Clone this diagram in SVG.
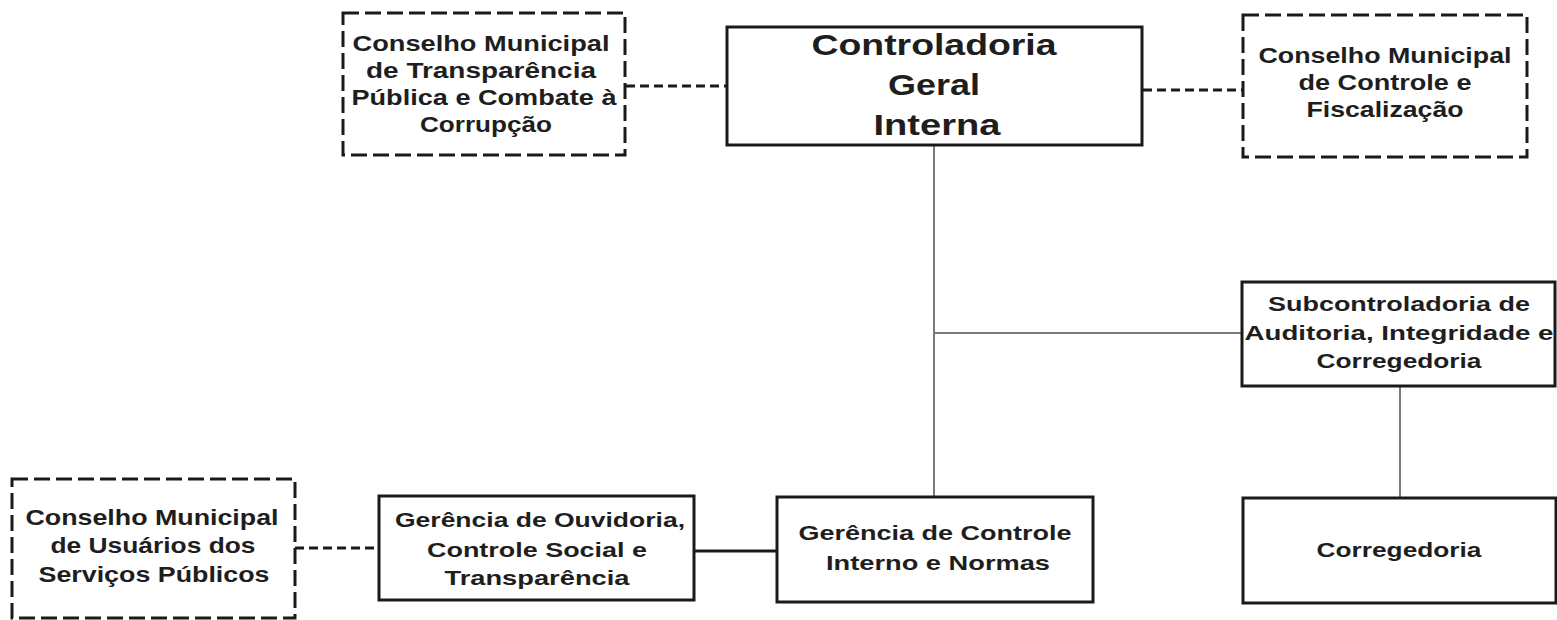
<svg xmlns="http://www.w3.org/2000/svg" width="1557" height="620" viewBox="0 0 1557 620">
<style>
  .box{fill:#fff;stroke:#1a1a1a;stroke-width:3}
  .dbox{fill:#fff;stroke:#1a1a1a;stroke-width:3;stroke-dasharray:16 6}
  .t{font-family:"Liberation Sans",Arial,sans-serif;font-weight:bold;fill:#1e1e1e;text-anchor:middle}
  .s22{font-size:22px}
  .s21{font-size:21px}
  .s30{font-size:30px}
  .solid{stroke:#1a1a1a;stroke-width:3;fill:none}
  .gray{stroke:#7a7a7a;stroke-width:2;fill:none}
  .dash{stroke:#1a1a1a;stroke-width:3;fill:none;stroke-dasharray:9 5}
</style>
<rect width="1557" height="620" fill="#fff"/>
<g id="connectors">
  <line class="dash" x1="626" y1="86" x2="727" y2="86"/>
  <line class="dash" x1="1143" y1="90" x2="1243" y2="90"/>
  <line class="gray" x1="934" y1="145" x2="934" y2="496"/>
  <line class="gray" x1="934" y1="333" x2="1242" y2="333"/>
  <line class="gray" x1="1400" y1="386" x2="1400" y2="498"/>
  <line class="solid" x1="694" y1="551" x2="777" y2="551"/>
  <line class="dash" x1="295" y1="548" x2="378" y2="548"/>
</g>
<g id="conselho-transparencia">
  <rect class="dbox" x="343" y="13" width="282" height="142"/>
  <text class="t s22" x="481" y="51" textLength="257" lengthAdjust="spacingAndGlyphs">Conselho Municipal</text>
  <text class="t s22" x="481" y="78" textLength="230" lengthAdjust="spacingAndGlyphs">de Transparência</text>
  <text class="t s22" x="484" y="105" textLength="265" lengthAdjust="spacingAndGlyphs">Pública e Combate à</text>
  <text class="t s22" x="486" y="132" textLength="132" lengthAdjust="spacingAndGlyphs">Corrupção</text>
</g>
<g id="controladoria">
  <rect class="box" x="727" y="27" width="415" height="118"/>
  <text class="t s30" x="934" y="55" textLength="245" lengthAdjust="spacingAndGlyphs">Controladoria</text>
  <text class="t s30" x="934" y="95" textLength="92" lengthAdjust="spacingAndGlyphs">Geral</text>
  <text class="t s30" x="937" y="135" textLength="127" lengthAdjust="spacingAndGlyphs">Interna</text>
</g>
<g id="conselho-controle">
  <rect class="dbox" x="1243" y="15" width="284" height="142"/>
  <text class="t s22" x="1385" y="63" textLength="253" lengthAdjust="spacingAndGlyphs">Conselho Municipal</text>
  <text class="t s22" x="1385" y="90" textLength="173" lengthAdjust="spacingAndGlyphs">de Controle e</text>
  <text class="t s22" x="1385" y="117" textLength="157" lengthAdjust="spacingAndGlyphs">Fiscalização</text>
</g>
<g id="subcontroladoria">
  <rect class="box" x="1242" y="282" width="313" height="104"/>
  <text class="t s21" x="1399" y="311" textLength="262" lengthAdjust="spacingAndGlyphs">Subcontroladoria de</text>
  <text class="t s21" x="1399" y="340" textLength="309" lengthAdjust="spacingAndGlyphs">Auditoria, Integridade e</text>
  <text class="t s21" x="1399" y="368" textLength="165" lengthAdjust="spacingAndGlyphs">Corregedoria</text>
</g>
<g id="corregedoria">
  <rect class="box" x="1243" y="498" width="313" height="105"/>
  <text class="t s21" x="1399" y="557" textLength="165" lengthAdjust="spacingAndGlyphs">Corregedoria</text>
</g>
<g id="gerencia-controle">
  <rect class="box" x="777" y="497" width="316" height="105"/>
  <text class="t s21" x="935" y="540" textLength="273" lengthAdjust="spacingAndGlyphs">Gerência de Controle</text>
  <text class="t s21" x="938" y="570" textLength="224" lengthAdjust="spacingAndGlyphs">Interno e Normas</text>
</g>
<g id="gerencia-ouvidoria">
  <rect class="box" x="379" y="496" width="315" height="104"/>
  <text class="t s21" x="540" y="527" textLength="290" lengthAdjust="spacingAndGlyphs">Gerência de Ouvidoria,</text>
  <text class="t s21" x="537" y="557" textLength="220" lengthAdjust="spacingAndGlyphs">Controle Social e</text>
  <text class="t s21" x="537" y="585" textLength="185" lengthAdjust="spacingAndGlyphs">Transparência</text>
</g>
<g id="conselho-usuarios">
  <rect class="dbox" x="12" y="479" width="283" height="139"/>
  <text class="t s22" x="152" y="525" textLength="253" lengthAdjust="spacingAndGlyphs">Conselho Municipal</text>
  <text class="t s22" x="153" y="553" textLength="205" lengthAdjust="spacingAndGlyphs">de Usuários dos</text>
  <text class="t s22" x="154" y="582" textLength="231" lengthAdjust="spacingAndGlyphs">Serviços Públicos</text>
</g>
</svg>
